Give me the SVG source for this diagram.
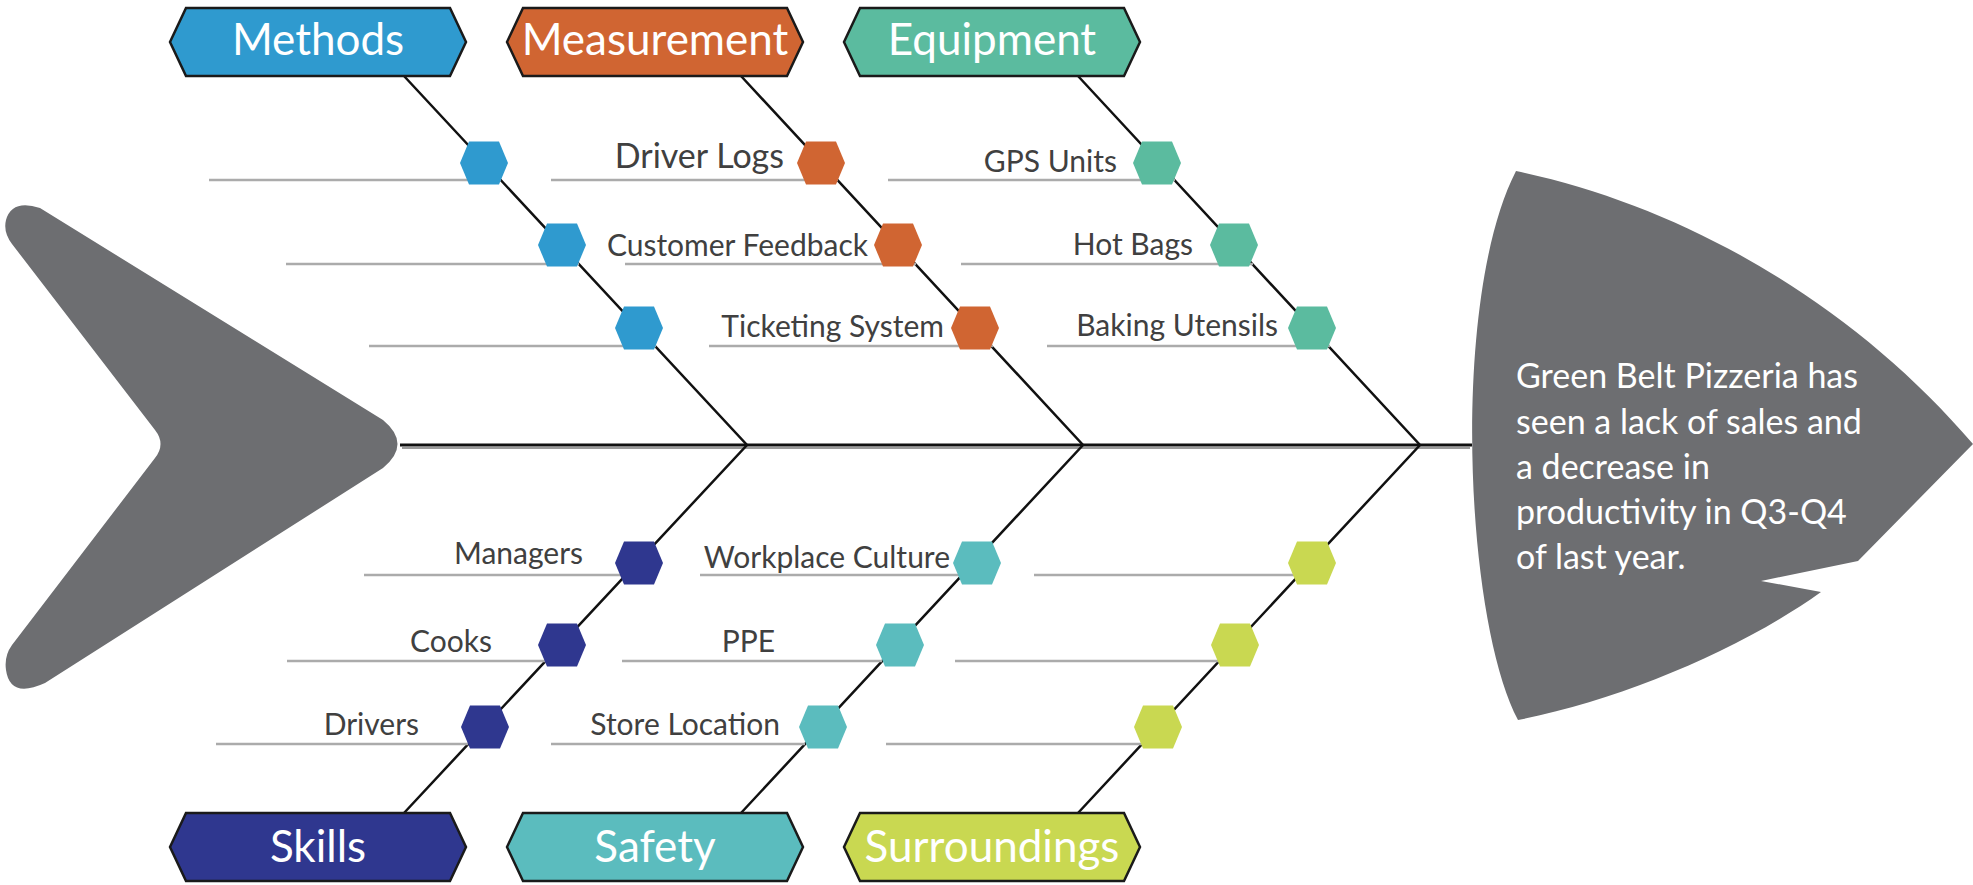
<svg xmlns="http://www.w3.org/2000/svg" xmlns:xlink="http://www.w3.org/1999/xlink" width="1973" height="885" viewBox="0 0 1973 885">
  <style>
    .fish { fill: #6d6e71; }
    .spine { stroke: #111; stroke-width: 3; fill: none; }
    .spine-sh { stroke: #9a9a9a; stroke-width: 2; fill: none; }
    .bone { stroke: #111; stroke-width: 2.5; fill: none; }
    .rib { stroke: #ababab; stroke-width: 2.5; fill: none; }
    .cat { stroke: #1a1a1a; stroke-width: 2.5; stroke-linejoin: miter; }
    .cat-text { font-family: Lato, "Liberation Sans", sans-serif; font-size: 44px; fill: #ffffff; text-anchor: middle; }
    .lbl { font-family: Lato, "Liberation Sans", sans-serif; font-size: 30px; fill: #404040; text-anchor: end; }
    .lbl-big { font-size: 34px; }
    .head-text { font-family: Lato, "Liberation Sans", sans-serif; font-size: 34px; fill: #ffffff; }
    .c-methods { fill: #2f9acf; }
    .c-measure { fill: #d06532; }
    .c-equip { fill: #5bbb9f; }
    .c-skills { fill: #2f378f; }
    .c-safety { fill: #5bbcbe; }
    .c-surr { fill: #c9d851; }
  </style>
  <defs>
    <polygon id="hx" points="-24,0 -15,-21.5 15,-21.5 24,0 15,21.5 -15,21.5"/>
    <polygon id="bn" points="0,34 16,0 280,0 296,34 280,68 16,68"/>
  </defs>

  <!-- tail -->
  <g id="tail">
    <path class="fish" d="M40,208 L383,420 Q412,444 383,468 L45,683 Q10,699 6,670 Q4,656 12,645 L155,458 Q166,444 155,430 L12,244 Q3,232 6,220 Q12,199 40,208 Z"/>
  </g>

  <!-- head -->
  <g id="head">
    <path class="fish" d="M1516,171 C1680,205 1850,300 1973,444 L1858,561 L1761,581 L1821,592 C1740,650 1620,700 1518,720 C1465,620 1450,300 1516,171 Z"/>
    <text class="head-text">
      <tspan x="1516" y="388">Green Belt Pizzeria has</tspan>
      <tspan x="1516" y="434">seen a lack of sales and</tspan>
      <tspan x="1516" y="479">a decrease in</tspan>
      <tspan x="1516" y="524">productivity in Q3-Q4</tspan>
      <tspan x="1516" y="569">of last year.</tspan>
    </text>
  </g>

  <!-- connectors -->
  <g id="connectors">
    <line class="spine-sh" x1="402" y1="448" x2="1470" y2="448"/>
    <line class="spine" x1="400" y1="445" x2="1472" y2="445"/>
    <!-- main bones -->
    <polyline class="bone" points="404,76 747,445 404,813"/>
    <polyline class="bone" points="741,76 1083,445 741,813"/>
    <polyline class="bone" points="1078,76 1420,445 1078,813"/>
    <!-- ribs, upper half -->
    <line class="rib" x1="209" y1="180" x2="501" y2="180"/>
    <line class="rib" x1="286" y1="264" x2="579" y2="264"/>
    <line class="rib" x1="369" y1="346" x2="656" y2="346"/>
    <line class="rib" x1="551" y1="180" x2="838" y2="180"/>
    <line class="rib" x1="625" y1="264" x2="916" y2="264"/>
    <line class="rib" x1="709" y1="346" x2="993" y2="346"/>
    <line class="rib" x1="888" y1="180" x2="1175" y2="180"/>
    <line class="rib" x1="961" y1="264" x2="1253" y2="264"/>
    <line class="rib" x1="1047" y1="346" x2="1330" y2="346"/>
    <!-- ribs, lower half -->
    <line class="rib" x1="364" y1="575" x2="626" y2="575"/>
    <line class="rib" x1="287" y1="661" x2="546" y2="661"/>
    <line class="rib" x1="216" y1="744" x2="468" y2="744"/>
    <line class="rib" x1="700" y1="575" x2="963" y2="575"/>
    <line class="rib" x1="622" y1="661" x2="882" y2="661"/>
    <line class="rib" x1="551" y1="744" x2="805" y2="744"/>
    <line class="rib" x1="1034" y1="575" x2="1299" y2="575"/>
    <line class="rib" x1="955" y1="661" x2="1219" y2="661"/>
    <line class="rib" x1="886" y1="744" x2="1142" y2="744"/>
  </g>

  <!-- category banners -->
  <g id="cat-methods">
    <use xlink:href="#bn" class="cat c-methods" x="170" y="8"/>
    <text class="cat-text" x="318" y="55">Methods</text>
  </g>
  <g id="cat-measurement">
    <use xlink:href="#bn" class="cat c-measure" x="507" y="8"/>
    <text class="cat-text" x="655" y="55">Measurement</text>
  </g>
  <g id="cat-equipment">
    <use xlink:href="#bn" class="cat c-equip" x="844" y="8"/>
    <text class="cat-text" x="992" y="55">Equipment</text>
  </g>
  <g id="cat-skills">
    <use xlink:href="#bn" class="cat c-skills" x="170" y="813"/>
    <text class="cat-text" x="318" y="862">Skills</text>
  </g>
  <g id="cat-safety">
    <use xlink:href="#bn" class="cat c-safety" x="507" y="813"/>
    <text class="cat-text" x="655" y="862">Safety</text>
  </g>
  <g id="cat-surroundings">
    <use xlink:href="#bn" class="cat c-surr" x="844" y="813"/>
    <text class="cat-text" x="992" y="862">Surroundings</text>
  </g>

  <!-- Methods causes -->
  <g id="methods-1"><use xlink:href="#hx" class="c-methods" x="484" y="163"/></g>
  <g id="methods-2"><use xlink:href="#hx" class="c-methods" x="562" y="245"/></g>
  <g id="methods-3"><use xlink:href="#hx" class="c-methods" x="639" y="328"/></g>

  <!-- Measurement causes -->
  <g id="measure-driver-logs">
    <use xlink:href="#hx" class="c-measure" x="821" y="163"/>
    <text class="lbl lbl-big" x="784" y="168">Driver Logs</text>
  </g>
  <g id="measure-customer-feedback">
    <use xlink:href="#hx" class="c-measure" x="898" y="245"/>
    <text class="lbl" x="868" y="256">Customer Feedback</text>
  </g>
  <g id="measure-ticketing">
    <use xlink:href="#hx" class="c-measure" x="975" y="328"/>
    <text class="lbl" x="944" y="337">Ticketing System</text>
  </g>

  <!-- Equipment causes -->
  <g id="equip-gps">
    <use xlink:href="#hx" class="c-equip" x="1157" y="163"/>
    <text class="lbl" x="1117" y="172">GPS Units</text>
  </g>
  <g id="equip-hot-bags">
    <use xlink:href="#hx" class="c-equip" x="1234" y="245"/>
    <text class="lbl" x="1193" y="255">Hot Bags</text>
  </g>
  <g id="equip-utensils">
    <use xlink:href="#hx" class="c-equip" x="1312" y="328"/>
    <text class="lbl" x="1278" y="336">Baking Utensils</text>
  </g>

  <!-- Skills causes -->
  <g id="skills-managers">
    <use xlink:href="#hx" class="c-skills" x="639" y="563"/>
    <text class="lbl" x="583" y="564">Managers</text>
  </g>
  <g id="skills-cooks">
    <use xlink:href="#hx" class="c-skills" x="562" y="645"/>
    <text class="lbl" x="492" y="652">Cooks</text>
  </g>
  <g id="skills-drivers">
    <use xlink:href="#hx" class="c-skills" x="485" y="727"/>
    <text class="lbl" x="419" y="735">Drivers</text>
  </g>

  <!-- Safety causes -->
  <g id="safety-culture">
    <use xlink:href="#hx" class="c-safety" x="977" y="563"/>
    <text class="lbl" x="950" y="568">Workplace Culture</text>
  </g>
  <g id="safety-ppe">
    <use xlink:href="#hx" class="c-safety" x="900" y="645"/>
    <text class="lbl" x="775" y="652">PPE</text>
  </g>
  <g id="safety-location">
    <use xlink:href="#hx" class="c-safety" x="823" y="727"/>
    <text class="lbl" x="780" y="735">Store Location</text>
  </g>

  <!-- Surroundings causes -->
  <g id="surr-1"><use xlink:href="#hx" class="c-surr" x="1312" y="563"/></g>
  <g id="surr-2"><use xlink:href="#hx" class="c-surr" x="1235" y="645"/></g>
  <g id="surr-3"><use xlink:href="#hx" class="c-surr" x="1158" y="727"/></g>
</svg>
